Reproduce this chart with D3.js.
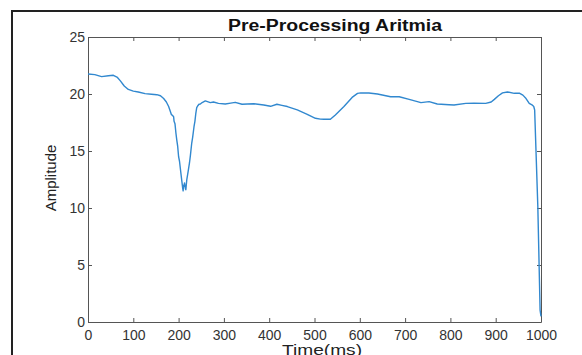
<!DOCTYPE html>
<html>
<head>
<meta charset="utf-8">
<script src="https://cdn.jsdelivr.net/npm/d3@7"></script>
<style>
	body { margin: 0; background: #fff; }
	text { font-family: "Liberation Sans", Arial, sans-serif; }
</style>
</head>
<body>
<div id="chart"><svg></svg></div>
<script>
// time axis (ms) and amplitude
const timeMs = [0, 15, 30, 45, 56, 65, 71, 80, 89, 100, 111, 126, 140, 152, 160, 167, 173, 178, 182, 184,
	187, 189, 190, 192, 194, 196, 198, 200, 202, 205, 207, 209, 210, 211, 212, 213, 215, 216, 218, 221,
	224, 226, 229, 231, 234, 236, 238, 240, 242, 245, 248, 252, 259, 270, 277, 288, 303, 315, 325, 340,
	352, 366, 388, 403, 417, 428, 440, 462, 484, 502, 513, 521, 535, 546, 565, 583, 595, 602, 620, 639,
	668, 687, 709, 735, 753, 771, 797, 808, 834, 852, 878, 890, 897, 906, 915, 926, 941, 953, 960, 967,
	974, 980, 984, 986, 993, 998, 1000];
const amplitude = [21.75, 21.7, 21.52, 21.6, 21.64, 21.45, 21.17, 20.7, 20.4, 20.25, 20.18, 20.03, 19.98, 19.94, 19.85, 19.6, 19.3, 18.9, 18.45, 18.2,
	18.1, 18.0, 17.6, 17.4, 16.6, 15.96, 15.4, 14.5, 14.1, 13.07, 12.4, 11.75, 11.5, 12.0, 11.9, 12.2, 11.7, 11.6, 12.46, 13.2,
	13.95, 14.6, 15.7, 16.2, 17.13, 17.6, 18.3, 18.8, 18.95, 19.1, 19.12, 19.25, 19.39, 19.24, 19.3, 19.18, 19.12, 19.2, 19.27, 19.1,
	19.12, 19.15, 19.03, 18.92, 19.1, 19.0, 18.9, 18.6, 18.22, 17.87, 17.8, 17.78, 17.78, 18.16, 18.9, 19.7, 20.05, 20.1, 20.09, 20.0,
	19.76, 19.76, 19.53, 19.24, 19.33, 19.12, 19.06, 19.03, 19.18, 19.2, 19.18, 19.3, 19.53, 19.85, 20.1, 20.18, 20.06, 20.06, 19.9, 19.6,
	19.18, 19.05, 18.9, 18.6, 10.1, 1.05, 0.5];
const xTicks = [0, 100, 200, 300, 400, 500, 600, 700, 800, 900, 1000];
const yTicks = [0, 5, 10, 15, 20, 25];

const w = 582;
const h = 355;
const margin = {top: 37, right: 41, bottom: 33, left: 88};

let dataset = timeMs.map((t, i) => ({t: t, v: amplitude[i]}));

let svg = d3.select("#chart")
			.select("svg")
			.attr("width", w)
			.attr("height", h);

// figure frame (only left and top edges fall inside the picture)
svg.append("path")
	.attr("d", `M12,${h} V11 H${w}`)
	.attr("fill", "none")
	.attr("stroke", "#222")
	.attr("stroke-width", 2);

let x = d3.scaleLinear()
		.domain([0, 1000])
		.range([margin.left, w - margin.right]);

let y = d3.scaleLinear()
		.domain([0, 25])
		.range([h - margin.bottom, margin.top]);

/* ***Axes*** */
let axisColor = "#555";

let xBottom = svg.append("g")
	.attr("transform", `translate(0,${h - margin.bottom})`)
	.call(d3.axisBottom(x).tickValues(xTicks).tickFormat(d3.format("d")).tickSizeInner(-4).tickSizeOuter(0).tickPadding(8));

let xTop = svg.append("g")
	.attr("transform", `translate(0,${margin.top})`)
	.call(d3.axisTop(x).tickValues(xTicks).tickSizeInner(-4).tickSizeOuter(0).tickFormat(""));

let yLeft = svg.append("g")
	.attr("transform", `translate(${margin.left},0)`)
	.call(d3.axisLeft(y).tickValues(yTicks).tickSizeInner(-4).tickSizeOuter(0).tickPadding(3));

let yRight = svg.append("g")
	.attr("transform", `translate(${w - margin.right},0)`)
	.call(d3.axisRight(y).tickValues(yTicks).tickSizeInner(-4).tickSizeOuter(0).tickFormat(""));

[xBottom, xTop, yLeft, yRight].forEach(g => {
	g.select(".domain").attr("stroke", axisColor);
	g.selectAll(".tick line").attr("stroke", axisColor);
	g.selectAll(".tick text")
		.attr("fill", "#333")
		.style("font-size", "14px")
		.style("font-family", "'Liberation Sans', Arial, sans-serif");
});

/* ***Signal*** */
let line = d3.line()
			.x(d => x(d.t))
			.y(d => y(d.v));

svg.append("path")
	.datum(dataset)
	.attr("d", line)
	.attr("fill", "none")
	.attr("stroke", "#3188cf")
	.attr("stroke-width", 1.4)
	.attr("stroke-linejoin", "round");

/* ***Labels*** */
svg.append("text")
	.text("Pre-Processing Aritmia")
	.attr("x", 228)
	.attr("y", 31)
	.attr("textLength", 214)
	.attr("lengthAdjust", "spacingAndGlyphs")
	.style("font-size", "16px")
	.style("font-weight", "bold")
	.attr("fill", "#111");

svg.append("text")
	.text("Time(ms)")
	.attr("x", 282)
	.attr("y", 355)
	.attr("textLength", 80)
	.attr("lengthAdjust", "spacingAndGlyphs")
	.style("font-size", "14px")
	.attr("fill", "#222");

svg.append("text")
	.text("Amplitude")
	.attr("text-anchor", "middle")
	.attr("transform", "translate(56,178) rotate(-90)")
	.style("font-size", "15px")
	.attr("fill", "#222");
</script>
</body>
</html>
